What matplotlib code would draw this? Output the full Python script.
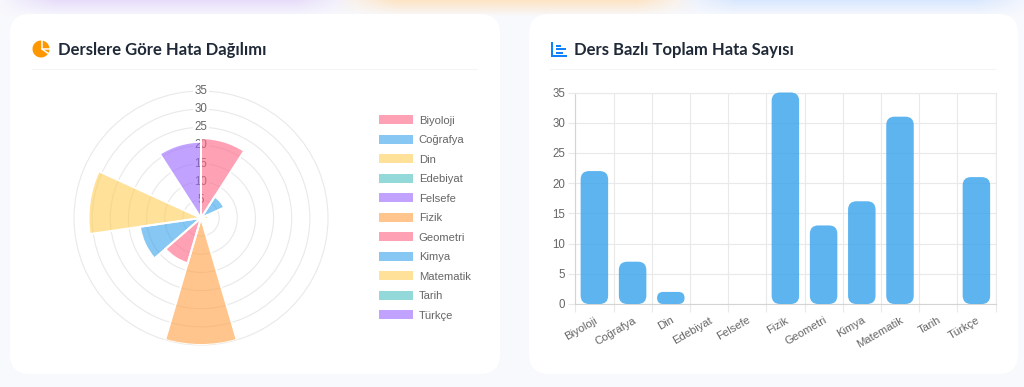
import numpy as np
import matplotlib
matplotlib.use("Agg")
import matplotlib.pyplot as plt
from matplotlib.patches import FancyBboxPatch, Wedge, Rectangle

W, H = 1024, 387

dersler = ["Biyoloji", "Coğrafya", "Din", "Edebiyat", "Felsefe", "Fizik",
           "Geometri", "Kimya", "Matematik", "Tarih", "Türkçe"]
hatalar = [22, 7, 2, 0, 0, 35, 13, 17, 31, 0, 21]
polar_renkler = ["#ff6384", "#36a2eb", "#ffce56", "#4bc0c0", "#9966ff", "#ff9f40",
                 "#ff6384", "#36a2eb", "#ffce56", "#4bc0c0", "#9966ff"]
r_ticks = [5, 10, 15, 20, 25, 30, 35]
y_ticks = [0, 5, 10, 15, 20, 25, 30, 35]
baslik_sol = "Derslere Göre Hata Dağılımı"
baslik_sag = "Ders Bazlı Toplam Hata Sayısı"

plt.rcParams['font.family'] = ['Liberation Sans', 'DejaVu Sans']
GRI = "#666666"
IZGARA = "#e9e9e9"
FS = 8.3
FS_DAR = 8.1


def px_axes(x0, y0, x1, y1, **kw):
    # pixel box from the top left -> figure fractions
    return fig.add_axes([x0 / W, 1 - y1 / H, (x1 - x0) / W, (y1 - y0) / H], **kw)


fig = plt.figure(figsize=(W / 100, H / 100), dpi=100, facecolor="#f8f9fd")

# background, cards, titles
bg = fig.add_axes([0, 0, 1, 1])
bg.set_xlim(0, W)
bg.set_ylim(H, 0)
bg.axis("off")

xx, yy = np.meshgrid(np.arange(W), np.arange(16))
for x0, x1, renk, guc in [(25, 325, (0.88, 0.82, 0.98), 0.7),
                          (365, 665, (1.0, 0.86, 0.68), 0.7),
                          (705, 1005, (0.80, 0.88, 1.0), 0.7)]:
    kenar = np.clip((xx - x0 + 30) / 60, 0, 1) * np.clip((x1 + 30 - xx) / 60, 0, 1)
    img = np.zeros((16, W, 4))
    img[..., :3] = renk
    img[..., 3] = guc * kenar * np.clip(1 - yy / 16, 0, 1)
    bg.imshow(img, extent=(0, W, 16, 0), aspect="auto", zorder=0)
bg.set_xlim(0, W)
bg.set_ylim(H, 0)

for x0, x1 in [(10, 500), (529, 1018)]:
    bg.add_patch(FancyBboxPatch((x0, 14), x1 - x0, 360, boxstyle="round,pad=0,rounding_size=20",
                                fc="white", ec="none", zorder=1))
bg.plot([32, 477], [69, 69], color="#f4f5f7", lw=0.8, zorder=2)
bg.plot([550, 995], [69, 69], color="#f4f5f7", lw=0.8, zorder=2)

bg.text(58, 49.5, baslik_sol, fontsize=12, fontweight="bold", family="Lato", color="#1f2937",
        va="center", zorder=3)
bg.text(574, 49.5, baslik_sag, fontsize=12, fontweight="bold", family="Lato", color="#1f2937",
        va="center", zorder=3)

# icons
bg.add_patch(Wedge((41, 49), 8.5, 0, 360, fc="#ff9800", ec="none", zorder=3))
bg.plot([42, 42, 50], [40, 49, 49], color="white", lw=1.1, zorder=4)
bg.plot([42, 49], [49, 54], color="white", lw=1.1, zorder=4)
bg.add_patch(Rectangle((550.5, 41.5), 2.2, 15.5, fc="#1080fb", ec="none", zorder=3))
bg.add_patch(Rectangle((550.5, 54.8), 16, 2.2, fc="#1080fb", ec="none", zorder=3))
for yy_, uz in [(44.5, 5), (48, 10), (51.5, 7.5)]:
    bg.add_patch(Rectangle((555.5, yy_), uz, 2, fc="#1080fb", ec="none", zorder=3))

# polar area chart
ax1 = px_axes(74, 91, 328, 345, projection="polar")
ax1.patch.set_alpha(0)
ax1.set_theta_zero_location("N")
ax1.set_theta_direction(-1)
ax1.set_rlim(0, 35)
ax1.set_rticks(r_ticks)
ax1.set_yticklabels([])
ax1.set_xticks([])
ax1.spines["polar"].set_visible(False)
ax1.grid(True, axis="y", color=IZGARA, lw=0.8)
for g in ax1.yaxis.get_gridlines():
    g.set_clip_on(False)
ax1.set_axisbelow(True)

genislik = 2 * np.pi / len(dersler)
tetalar = np.arange(len(dersler)) * genislik
ax1.bar(tetalar, hatalar, width=genislik, align="edge", color=polar_renkler, alpha=0.6,
        edgecolor="none", zorder=3)
# white separators keep their own alpha
ax1.bar(tetalar, hatalar, width=genislik, align="edge", color="none",
        edgecolor="white", lw=1.4, zorder=4)
for r in r_ticks:
    ax1.text(0, r, str(r), ha="center", va="center", fontsize=FS, color=GRI, zorder=1,
             bbox=dict(fc="white", ec="none", pad=1), clip_on=False)

el = [Rectangle((0, 0), 1, 1, fc=c, alpha=0.6, ec="none") for c in polar_renkler]
fig.legend(el, dersler, loc="upper left", bbox_to_anchor=(377 / W, 1 - 113 / H), frameon=False,
           fontsize=FS_DAR, labelcolor=GRI, handlelength=3.02, handleheight=0.85,
           handletextpad=0.5, labelspacing=0.81, borderpad=0.2, borderaxespad=0)

# bar chart
ax2 = px_axes(575.3, 92.5, 995.5, 304)
x = np.arange(len(dersler))
ax2.set_xlim(-0.5, 10.5)
ax2.set_ylim(0, 35)
ax2.set_yticks(y_ticks)
ax2.set_xticks(x)
ax2.set_xticks(np.arange(len(dersler) + 1) - 0.5, minor=True)
ax2.set_xticklabels(dersler, rotation=30, ha="right", va="top", rotation_mode="anchor",
                    fontsize=FS_DAR, color=GRI)
ax2.tick_params(axis="x", which="major", length=0, pad=8)
ax2.tick_params(axis="x", which="minor", length=5.6, color=IZGARA, width=0.8)
ax2.tick_params(axis="y", length=5.2, color=IZGARA, width=0.8, pad=2, labelsize=FS, labelcolor=GRI)
ax2.grid(True, axis="y", color=IZGARA, lw=0.8)
ax2.grid(True, axis="x", which="minor", color=IZGARA, lw=0.8)
ax2.set_axisbelow(True)
for s in ["top", "right"]:
    ax2.spines[s].set_color(IZGARA)
    ax2.spines[s].set_linewidth(0.8)
for s in ["left", "bottom"]:
    ax2.spines[s].set_color("#d4d4d4")
    ax2.spines[s].set_linewidth(0.8)

bar_w = 27.5 / 38.2
en_boy = (35 / 211.5) / (11 / 420.2)
for xi, v in zip(x, hatalar):
    if v == 0:
        continue
    kose = min(0.22, v / en_boy / 2)
    ax2.add_patch(FancyBboxPatch((xi - bar_w / 2, 0), bar_w, v,
                                 boxstyle=f"round,pad=0,rounding_size={kose}", mutation_aspect=en_boy,
                                 fc="#36a2eb", alpha=0.8, ec="none", clip_on=False, zorder=3))

fig.savefig("out.png", dpi=100, facecolor=fig.get_facecolor())
